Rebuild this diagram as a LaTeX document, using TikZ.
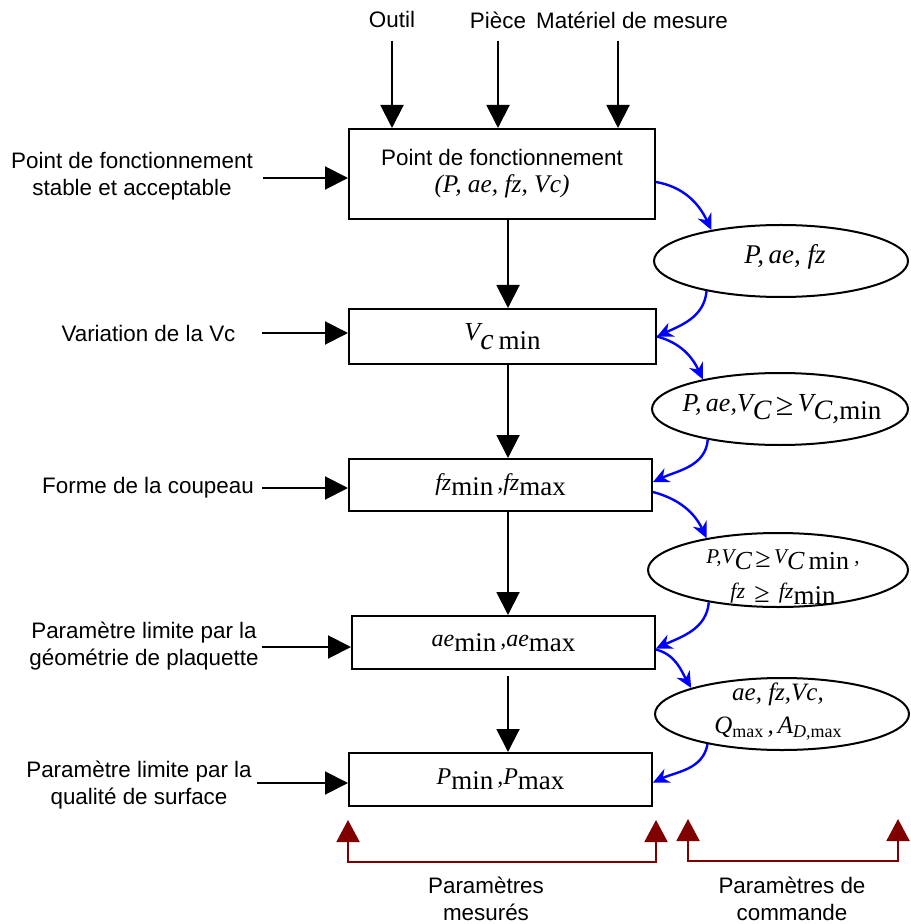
\documentclass[tikz,border=0pt]{standalone}
\usepackage{fontspec}
\setmainfont{Liberation Sans}
\newfontfamily\tms{Liberation Serif}
\usetikzlibrary{arrows.meta,shapes.geometric}
\definecolor{mred}{RGB}{128,0,0}
\definecolor{fblue}{RGB}{0,0,255}
% font size with baselineskip equal to the size
\newcommand\fs[1]{\fontsize{#1}{#1}\selectfont}
% lowered piece of a formula
\newcommand\lw[2]{\raisebox{-#1}{#2}}
% relation sign at a readable size, set down onto the baseline
\newcommand\gtr[1]{\raisebox{-2pt}{\upshape\fs{#1}≥}}

\begin{document}
\begin{tikzpicture}[x=0.5pt,y=-0.5pt,
  stepbox/.style={draw,line width=1pt,rectangle,inner sep=0pt},
  arr/.style={line width=1pt,-{Triangle[length=11.5pt,width=11.5pt]}},
  barr/.style={fblue,line width=1.2pt,-{Stealth[length=8pt,width=7.5pt]}},
  oval/.style={draw,line width=1pt,ellipse,inner sep=0pt},
  brk/.style={mred,line width=1pt,{Triangle[length=11pt,width=11.5pt]}-{Triangle[length=11pt,width=11.5pt]}},
  lbl/.style={align=center,inner sep=0pt,font=\fontsize{11.2}{13.5}\selectfont},
  frm/.style={align=center,inner sep=0pt}]
\useasboundingbox (0,0) rectangle (910,924);

% ---- main chain of boxes
\node[stepbox,minimum width=153pt,minimum height=45pt,align=center,
      font=\fontsize{11.2}{15}\selectfont] (b1) at (502,174)
  {\raisebox{-1.5pt}{Point de fonctionnement}\\{\tms\itshape\fs{12.7}(P, ae, fz, Vc)}};
\node[stepbox,minimum width=153.5pt,minimum height=27.5pt] (b2) at (502.5,336.5)
  {\tms\fs{13}\itshape V\lw{4.5pt}{\fs{15}c\,\upshape\fs{13.5}min}};
\node[stepbox,minimum width=151.5pt,minimum height=26pt] (b3) at (500.5,485)
  {\tms\fs{12}\itshape fz\lw{2.5pt}{\upshape\fs{13.5}min}\,,fz\lw{2.5pt}{\upshape\fs{13.5}max}};
\node[stepbox,minimum width=151.5pt,minimum height=26.5pt] (b4) at (503.5,642.5)
  {\tms\fs{12}\itshape ae\lw{2.5pt}{\upshape\fs{13.5}min}\,,ae\lw{2.5pt}{\upshape\fs{13.5}max}};
\node[stepbox,minimum width=151.5pt,minimum height=26.5pt] (b5) at (500.5,779.5)
  {\tms\fs{12}\itshape P\lw{2.5pt}{\upshape\fs{13.5}min}\,,P\lw{2.5pt}{\upshape\fs{13.5}max}};

% ---- inputs from above
\node[lbl] (t1) at (392,20) {Outil};
\node[lbl] (t2) at (498,20) {Pièce};
\node[lbl] (t3) at (632,20) {Matériel de mesure};
\draw[arr] ([yshift=-6pt]t1.south) -- (t1.south |- b1.north);
\draw[arr] ([yshift=-6pt]t2.south) -- (t2.south |- b1.north);
\draw[arr] ([xshift=-7pt,yshift=-6pt]t3.south) -- ([xshift=-7pt]t3.south |- b1.north);

% ---- inputs from the left
\node[lbl] (l1) at (132,176.5) {Point de fonctionnement\\stable et acceptable};
\node[lbl] (l2) at (148.5,333) {Variation de la Vc};
\node[lbl] (l3) at (148,488) {Forme de la coupeau};
\node[lbl] (l4) at (144,646.5) {Paramètre limite par la\\géométrie de plaquette};
\node[lbl] (l5) at (139,785) {Paramètre limite par la\\qualité de surface};
\draw[arr] ([xshift=-42.5pt,yshift=-2pt]b1.west) -- ([yshift=-2pt]b1.west);
\draw[arr] ([xshift=-43pt,yshift=1.75pt]b2.west) -- ([yshift=1.75pt]b2.west);
\draw[arr] ([xshift=-43pt,yshift=-1.5pt]b3.west) -- ([yshift=-1.5pt]b3.west);
\draw[arr] ([xshift=-44.5pt,yshift=-2.25pt]b4.west) -- ([yshift=-2.25pt]b4.west);
\draw[arr] ([xshift=-45.5pt,yshift=-1.75pt]b5.west) -- ([yshift=-1.75pt]b5.west);

% ---- downward flow
\coordinate (axis) at (508,0);
\draw[arr] (axis |- b1.south) -- (axis |- b2.north);
\draw[arr] (axis |- b2.south) -- (axis |- b3.north);
\draw[arr] (axis |- b3.south) -- (axis |- b4.north);
\draw[arr,shorten <=3pt] (axis |- b4.south) -- (axis |- b5.north);

% ---- parameter ovals
\node[oval,minimum width=127pt,minimum height=36pt] (e1) at (781,261) {};
\node[oval,minimum width=128pt,minimum height=36pt] (e2) at (780,409) {};
\node[oval,minimum width=130pt,minimum height=37pt] (e3) at (778,570) {};
\node[oval,minimum width=127pt,minimum height=36pt] (e4) at (782,714) {};
\node[frm] (e1t) at (785,257) {\tms\fs{13.5}\itshape P,\,ae, fz};
\node[frm] (e2t) at (782,409)
  {\tms\fs{13}\itshape P,\,ae,V\lw{4pt}{\fs{14}C}\,\gtr{16}\,V\lw{4pt}{\fs{14}C,\upshape\fs{13.5}min}};
\node[frm,font=\tms\fontsize{11}{17.5}\selectfont\itshape] (e3t) at (783,577)
  {\fs{10.5}P,V\lw{3pt}{\fs{13}C}\,\gtr{14}\,V\lw{3pt}{\fs{13}C\,\upshape min}\ \upshape,\\
   fz\, \gtr{14}\, fz\lw{3pt}{\upshape\fs{13.5}min}};
\node[frm,font=\tms\fontsize{12.5}{16.5}\selectfont\itshape] (e4t) at (778,711.5)
  {ae, fz,Vc,\\
   Q\lw{2pt}{\upshape\fs{9}max}\,,\,A\lw{2pt}{\fs{9}D,\upshape max}};

% ---- exchanges between boxes and ovals
\draw[barr] ([yshift=-4pt]b1.east) to[out=-10,in=115] (e1.156);
\draw[barr] (e1.202) to[out=-95,in=25] (b2.east);
\draw[barr] (b2.east) to[out=-15,in=115] (e2.159);
\draw[barr] (e2.203) to[out=-95,in=25] ([yshift=1.5pt]b3.east);
\draw[barr] ([yshift=-3.5pt]b3.east) to[out=-15,in=115] (e3.156);
\draw[barr] (e3.205) to[out=-95,in=25] ([yshift=-3pt]b4.east);
\draw[barr] ([yshift=-3.5pt]b4.east) to[out=-15,in=120] (e4.164);
\draw[barr] (e4.202) to[out=-100,in=25] ([yshift=-1.5pt]b5.east);

% ---- brackets under the chain
\draw[brk] ([yshift=-6.5pt]b5.south west) -- ++(0,42) -| ([xshift=1.5pt,yshift=-6.5pt]b5.south east);
\coordinate (k1) at (688,819);
\coordinate (k2) at (898,819);
\draw[brk] (k1) -- ++(0,42) -| (k2);
\node[lbl] (m1) at (486,899) {Paramètres\\mesurés};
\node[lbl] (m2) at (792,899) {Paramètres de\\commande};
\end{tikzpicture}
\end{document}
